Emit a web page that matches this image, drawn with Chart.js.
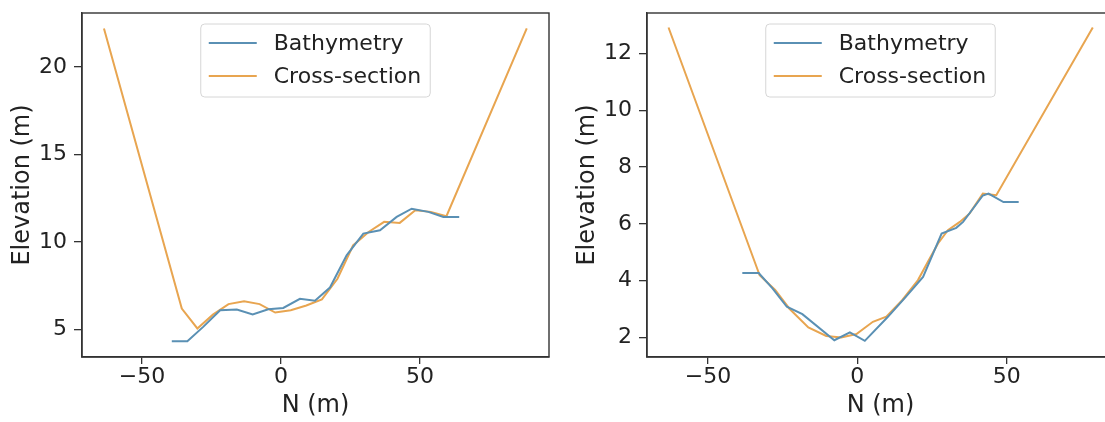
<!DOCTYPE html>
<html>
<head>
<meta charset="utf-8">
<script src="https://cdn.jsdelivr.net/npm/chart.js@4/dist/chart.umd.min.js"></script>
<style>
  html, body { margin: 0; padding: 0; background: #fff; overflow: hidden; }
  body { width: 1105px; height: 422px; position: relative; }
  .box { position: absolute; top: 0; width: 560px; height: 422px; }
</style>
</head>
<body>
<div class="box" style="left:0"><canvas id="left"></canvas></div>
<div class="box" style="left:565px"><canvas id="right"></canvas></div>
<script>
// data
const seriesNames = ["Bathymetry", "Cross-section"];

const leftBathyX = [-39.3, -33.7, -28.0, -21.9, -15.9, -10.2, -4.6, 0.8, 6.8, 12.2, 17.6, 23.6, 29.6, 35.6, 41.6, 47.0, 53.0, 58.4, 64.1];
const leftBathyY = [4.33, 4.33, 5.15, 6.1, 6.14, 5.86, 6.16, 6.23, 6.75, 6.65, 7.4, 9.24, 10.48, 10.67, 11.43, 11.9, 11.72, 11.43, 11.43];
const leftCrossX = [-63.7, -35.7, -30.1, -24.5, -18.9, -13.3, -7.7, -2.1, 3.5, 9.1, 14.7, 20.3, 25.9, 31.5, 37.1, 42.7, 48.3, 53.9, 59.5, 88.4];
const leftCrossY = [22.2, 6.2, 5.06, 5.85, 6.45, 6.62, 6.45, 5.97, 6.1, 6.37, 6.72, 7.9, 9.8, 10.57, 11.15, 11.09, 11.81, 11.72, 11.47, 22.2];

const rightBathyX = [-38.5, -33.0, -28.4, -23.6, -18.4, -7.7, -2.5, 2.5, 10.0, 16.0, 22.0, 28.2, 33.1, 35.4, 42.0, 43.9, 48.9, 54.0];
const rightBathyY = [4.27, 4.27, 3.73, 3.08, 2.82, 1.9, 2.18, 1.88, 2.7, 3.4, 4.13, 5.66, 5.86, 6.07, 7.0, 7.07, 6.77, 6.77];
const rightCrossX = [-63.2, -32.7, -27.5, -22.8, -16.4, -10.4, -5.4, -0.3, 5.2, 9.7, 15.0, 20.3, 23.8, 27.0, 30.3, 34.3, 37.6, 42.0, 46.5, 78.8];
const rightCrossY = [12.92, 4.19, 3.67, 3.02, 2.35, 2.05, 2.0, 2.12, 2.55, 2.73, 3.31, 4.02, 4.7, 5.31, 5.78, 6.07, 6.37, 7.07, 7.01, 12.92];

const xTicks = [-50, 0, 50];
const leftYTicks = [5, 10, 15, 20];
const rightYTicks = [2, 4, 6, 8, 10, 12];

const xTitle = "N (m)";
const yTitle = "Elevation (m)";

const BLUE = "#5a90b4";
const ORANGE = "#e8a550";
const INK = "#222222";
const FONT = "DejaVu Sans";

const pts = (xs, ys) => xs.map((x, i) => ({ x, y: ys[i] }));

// box around the plot, like matplotlib spines
const frame = {
  id: "frame",
  afterDraw(chart) {
    const { ctx, chartArea: a } = chart;
    ctx.save();
    ctx.strokeStyle = "#333";
    ctx.lineWidth = 1.4;
    ctx.strokeRect(a.left, a.top, a.right - a.left, a.bottom - a.top);
    ctx.restore();
  },
};

// legend inside the plot, upper center
const innerLegend = {
  id: "innerLegend",
  afterDatasetsDraw(chart) {
    const { ctx, chartArea: a } = chart;
    const sets = chart.data.datasets;
    ctx.save();
    ctx.font = "22px '" + FONT + "'";
    const textW = Math.max(...sets.map(d => ctx.measureText(d.label).width));
    const w = 8 + 48 + 17 + textW + 9;
    const h = 73;
    const x0 = (a.left + a.right) / 2 - w / 2;
    const y0 = a.top + 11;
    ctx.beginPath();
    ctx.roundRect(x0, y0, w, h, 4);
    ctx.fillStyle = "rgba(255,255,255,0.8)";
    ctx.fill();
    ctx.strokeStyle = "#d6d6d6";
    ctx.lineWidth = 1;
    ctx.stroke();
    sets.forEach((d, i) => {
      const cy = y0 + 19 + i * 33;
      ctx.beginPath();
      ctx.moveTo(x0 + 8, cy);
      ctx.lineTo(x0 + 56, cy);
      ctx.strokeStyle = d.borderColor;
      ctx.lineWidth = 2;
      ctx.stroke();
      ctx.fillStyle = INK;
      ctx.textBaseline = "middle";
      ctx.fillText(d.label, x0 + 73, cy + 1);
    });
    ctx.restore();
  },
};

function makeChart(id, bx, by, cx, cy, xMin, xMax, yMin, yMax, yTicks) {
  const tickFont = { family: FONT, size: 22 };
  const titleFont = { family: FONT, size: 24 };
  return new Chart(document.getElementById(id), {
    type: "line",
    data: {
      datasets: [
        { label: seriesNames[0], data: pts(bx, by), borderColor: BLUE, backgroundColor: BLUE },
        { label: seriesNames[1], data: pts(cx, cy), borderColor: ORANGE, backgroundColor: ORANGE },
      ],
    },
    options: {
      responsive: false,
      animation: false,
      devicePixelRatio: 1,
      layout: { padding: { top: 13, right: 11, left: 0, bottom: 0 } },
      elements: {
        point: { radius: 0 },
        line: { borderWidth: 2, tension: 0 },
      },
      plugins: { legend: { display: false }, tooltip: { enabled: false } },
      scales: {
        x: {
          type: "linear",
          min: xMin,
          max: xMax,
          afterBuildTicks: s => { s.ticks = xTicks.map(v => ({ value: v })); },
          afterFit: s => { s.height = 65; s.paddingLeft = 0; s.paddingRight = 0; },
          ticks: {
            color: INK, font: tickFont, padding: 0, maxRotation: 0,
            callback: v => String(v).replace("-", "\u2212"),
          },
          grid: { drawOnChartArea: false, drawTicks: true, tickLength: 7, color: "#333", lineWidth: 1.3 },
          border: { display: true, color: "#333", width: 1.4 },
          title: { display: true, text: xTitle, color: INK, font: titleFont, padding: { top: 0, bottom: 2 } },
        },
        y: {
          type: "linear",
          min: yMin,
          max: yMax,
          afterBuildTicks: s => { s.ticks = yTicks.map(v => ({ value: v })); },
          afterFit: s => { s.width = 82; s.paddingTop = 0; s.paddingBottom = 0; },
          ticks: { color: INK, font: tickFont, padding: 7 },
          grid: { drawOnChartArea: false, drawTicks: true, tickLength: 8, color: "#333", lineWidth: 1.3 },
          border: { display: true, color: "#333", width: 1.4 },
          title: { display: true, text: yTitle, color: INK, font: titleFont, padding: { top: 8, bottom: 0 } },
        },
      },
    },
    plugins: [frame, innerLegend],
  });
}

for (const id of ["left", "right"]) {
  const c = document.getElementById(id);
  c.width = 560; c.height = 422;
  c.style.width = "560px"; c.style.height = "422px";
}

makeChart("left", leftBathyX, leftBathyY, leftCrossX, leftCrossY, -71.6, 96.4, 3.43, 23.08, leftYTicks);
makeChart("right", rightBathyX, rightBathyY, rightCrossX, rightCrossY, -70.4, 85.9, 1.31, 13.43, rightYTicks);
</script>
</body>
</html>
